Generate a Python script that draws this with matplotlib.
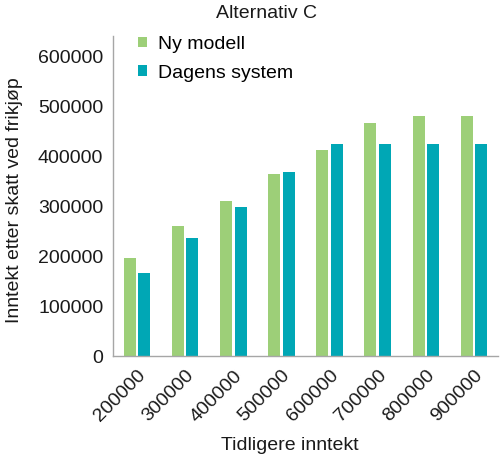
import matplotlib
matplotlib.use("Agg")
import matplotlib.pyplot as plt
import numpy as np

plt.rcParams['font.family'] = ['Liberation Sans', 'DejaVu Sans']

# data
kategorier = ['200000', '300000', '400000', '500000',
              '600000', '700000', '800000', '900000']
ny_modell = [197000, 260000, 310000, 364000, 412000, 466000, 481000, 481000]
dagens_system = [167000, 236000, 299000, 369000, 424000, 424000, 424000, 424000]

gronn = '#9dcf78'
bla = '#00a7b5'
tekst = '#1a1a1a'

fig = plt.figure(figsize=(5, 4.57), dpi=100)
ax = fig.add_axes([0.226, 0.221, 0.77, 0.700])

x = np.arange(len(kategorier))
bredde = 0.25
ax.bar(x - 0.15, ny_modell, bredde, color=gronn, label='Ny modell')
ax.bar(x + 0.15, dagens_system, bredde, color=bla, label='Dagens system')

ax.set_xlim(-0.5, len(kategorier) - 0.5)
ax.set_ylim(0, 640000)
ax.set_yticks(range(0, 600001, 100000))
ax.set_xticks(x)
ax.set_xticklabels(kategorier, rotation=45, ha='right', rotation_mode='anchor')
ax.tick_params(axis='both', length=0, labelsize=14, colors=tekst)
ax.tick_params(axis='x', pad=8)
ax.tick_params(axis='y', pad=7)

for s in ['top', 'right']:
    ax.spines[s].set_visible(False)
for s in ['left', 'bottom']:
    ax.spines[s].set_color('#a6a6a6')
    ax.spines[s].set_linewidth(1.0)

# aksetitler som fri tekst
fig.text(15 / 500, 1 - 200 / 457, 'Inntekt etter skatt ved frikjøp',
         rotation=90, ha='center', va='center', fontsize=14, color=tekst)
fig.text(290 / 500, 1 - 445 / 457, 'Tidligere inntekt', ha='center', va='center',
         fontsize=14, color=tekst)
fig.text(267 / 500, 1 - 13 / 457, 'Alternativ C', ha='center', va='center',
         fontsize=14, color=tekst)

ax.legend(loc='upper left', bbox_to_anchor=(0.045, 1.025), frameon=False,
          fontsize=14, handlelength=0.45, handleheight=0.45,
          handletextpad=0.55, labelspacing=0.6, borderaxespad=0)

fig.savefig('out.png', dpi=100)
